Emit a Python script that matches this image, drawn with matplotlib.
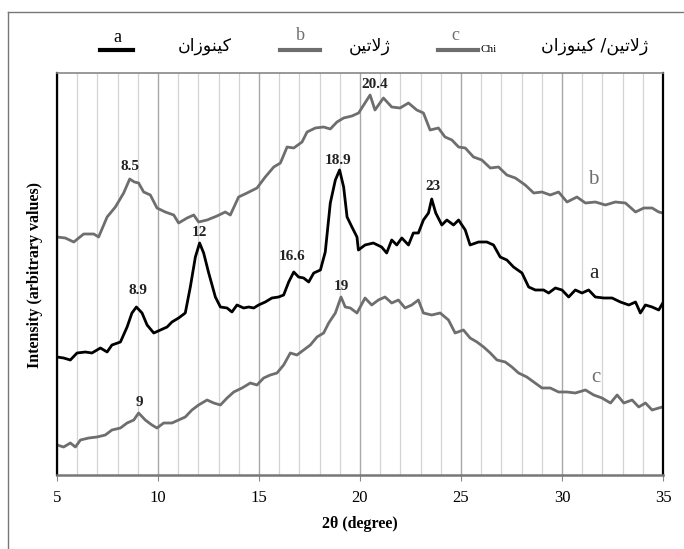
import matplotlib
matplotlib.use("Agg")
import matplotlib.pyplot as plt
from matplotlib.ticker import MultipleLocator
from matplotlib.lines import Line2D

# ---- data ----
b_x = [5.00,5.41,5.83,6.32,6.82,7.06,7.48,7.89,8.30,8.60,8.83,9.04,9.29,9.62,9.95,10.36,10.78,11.02,11.44,11.77,
       12.01,12.43,12.92,13.33,13.58,13.99,14.41,14.90,15.31,15.73,16.06,16.39,16.72,17.13,17.38,17.79,18.20,18.53,
       18.86,19.19,19.60,19.93,
       20.50,20.74,21.16,21.57,21.98,22.40,22.81,23.14,23.47,23.88,24.21,24.55,24.88,25.21,25.62,26.03,26.45,26.86,
       27.27,27.69,28.18,28.60,29.01,29.42,29.83,30.25,30.74,31.16,31.65,32.15,32.64,33.14,33.64,34.05,34.46,34.79,34.99]
b_y = [238,237,233,241,241,238,258,268,282,296,293,292,283,280,267,263,260,252,257,260,
       253,255,259,263,260,278,282,287,298,308,312,328,327,333,343,347,348,346,
       353,357,359,362,
       380,365,377,368,367,372,365,362,345,347,338,335,328,327,318,315,307,308,
       300,297,290,282,283,280,283,273,278,272,273,270,273,272,263,267,267,263,262]

a_x = [5.00,5.33,5.66,5.99,6.40,6.73,7.15,7.48,7.72,8.14,8.47,8.71,8.93,9.21,9.46,9.79,10.12,10.45,10.69,11.02,
       11.35,11.60,11.85,12.06,12.26,12.51,12.84,13.09,13.42,13.66,13.91,14.24,14.49,14.74,14.98,15.31,15.64,15.97,
       16.22,16.47,16.72,16.96,17.21,17.46,17.71,18.04,18.28,18.53,18.78,18.99,19.19,19.36,19.60,19.85,
       19.92,20.25,20.66,21.07,21.32,21.57,21.82,22.07,22.40,22.64,22.89,23.14,23.39,23.55,23.75,24.05,24.30,24.63,
       24.88,25.21,25.45,25.87,26.28,26.61,26.94,27.27,27.60,28.02,28.35,28.68,29.09,29.34,29.67,30.00,30.33,30.66,
       30.99,31.32,31.65,32.07,32.48,32.89,33.31,33.64,33.88,34.13,34.46,34.79,34.99]
a_y = [118,117,115,122,123,122,127,123,130,133,148,162,168,162,150,142,145,148,153,157,
       162,188,218,232,222,202,178,168,167,163,170,167,168,167,170,173,177,178,
       180,193,203,198,197,193,202,205,223,272,295,305,288,258,248,238,
       225,230,232,228,222,235,230,237,230,242,242,255,262,276,262,250,255,250,
       255,245,230,233,233,230,218,215,208,202,188,185,185,182,187,185,178,185,
       182,185,178,177,177,173,170,173,162,170,168,165,172]

c_x = [5.00,5.33,5.66,5.91,6.16,6.57,6.98,7.39,7.72,8.14,8.47,8.80,9.04,9.37,9.70,9.95,10.28,10.69,11.02,11.35,
       11.68,12.01,12.43,12.76,13.09,13.42,13.75,14.16,14.57,14.90,15.23,15.56,15.89,16.22,16.55,16.88,17.21,17.54,
       17.87,18.20,18.45,18.78,19.06,19.27,19.52,19.85,
       20.25,20.58,20.91,21.24,21.57,21.90,22.23,22.56,22.89,23.14,23.55,23.97,24.38,24.71,25.12,25.45,25.79,26.12,
       26.45,26.78,27.19,27.52,27.85,28.26,28.60,29.01,29.42,29.83,30.25,30.66,31.16,31.57,31.98,32.40,32.73,33.06,
       33.47,33.80,34.13,34.46,34.79,34.99]
c_y = [30,28,32,28,35,37,38,40,45,47,52,55,62,55,50,47,52,52,55,58,
       65,70,75,72,70,77,83,87,92,90,97,100,102,110,122,120,125,130,
       138,142,152,162,178,168,167,162,
       177,170,175,178,172,175,167,170,175,162,160,162,155,142,145,137,133,128,
       122,115,113,108,102,98,93,87,87,83,83,82,85,80,77,72,80,72,
       75,68,72,65,67,68]

peak_labels = ["8.5", "20.4", "18.9", "12", "16.6", "8.9", "19", "23", "9"]
peak_x = [8.61, 20.72, 18.89, 12.07, 16.62, 9.0, 19.09, 23.63, 9.1]
peak_y = [308, 390, 315, 242, 218, 185, 189, 289, 72]

curve_names = ["b", "a", "c"]
curve_name_x = [31.55, 31.6, 31.7]
curve_name_y = [296, 201, 97]

x_ticks = [5, 10, 15, 20, 25, 30, 35]

# Persian legend texts (pre-shaped presentation forms, visual order)
chitosan = "\uFEE5\uFE8D\uFEAF\uFEEE\uFEE8\uFBFF\uFB90"          # کینوزان
gelatin = "\uFEE6\uFBFF\uFE97\uFEFB\uFB8A"                        # ژلاتین
gel_chi = chitosan + " /" + gelatin                               # ژلاتین/ کینوزان

GRAY = "#6e6e6e"
SERIF = ["Liberation Serif", "DejaVu Serif"]
AR = ["DejaVu Sans"]

fig = plt.figure(figsize=(6.84, 5.49), dpi=100)
ax = fig.add_axes([57/684, 74/549, (663-57)/684, (475-73)/549])

ax.plot(b_x, b_y, color=GRAY, lw=2.0)
ax.plot(a_x, a_y, color="black", lw=2.0)
ax.plot(c_x, c_y, color=GRAY, lw=2.0)

for t, x, y in zip(peak_labels, peak_x, peak_y):
    ax.text(x, y, t, ha="center", va="center", fontsize=11, fontweight="bold",
            family=SERIF, color="#222222")
for t, x, y, col in zip(curve_names, curve_name_x, curve_name_y, [GRAY, "#222222", GRAY]):
    ax.text(x, y, t, ha="center", va="center", fontsize=15, family=SERIF, color=col)

ax.set_xlim(5, 35)
ax.set_ylim(0, 402)
ax.set_xticks(x_ticks)
ax.set_xticklabels([str(v) for v in x_ticks], family=SERIF, fontsize=12)
ax.xaxis.set_minor_locator(MultipleLocator(1))
ax.set_yticks([])
ax.grid(which="minor", axis="x", color="#d4d4d4", lw=0.9)
ax.grid(which="major", axis="x", color="#a8a8a8", lw=1.0)
ax.set_axisbelow(True)
ax.tick_params(axis="x", which="major", direction="out", length=4, color="#888888", pad=7)
ax.tick_params(axis="x", which="minor", length=0)

ax.spines["left"].set_color("black"); ax.spines["left"].set_linewidth(1.6)
ax.spines["right"].set_color("black"); ax.spines["right"].set_linewidth(1.6)
ax.spines["top"].set_color("#888888"); ax.spines["top"].set_linewidth(1.2)
ax.spines["bottom"].set_color("#777777"); ax.spines["bottom"].set_linewidth(1.8)

ax.set_xlabel("2θ (degree)", family=SERIF, fontsize=11.5, fontweight="bold", labelpad=7)
fig.text(35/684, 1 - 275/549, "Intensity (arbitrary values)", rotation=90, ha="center", va="center",
         family=SERIF, fontsize=11.5, fontweight="bold")

# outer frame (top and left)
fig.add_artist(Line2D([8/684, 1.0], [1 - 12/549, 1 - 12/549], color="#777777", lw=1.0))
fig.add_artist(Line2D([8/684, 8/684], [0, 1 - 12/549], color="#777777", lw=1.0))

# legend row
def fx(px):
    return px / 684
def fy(py):
    return 1 - py / 549

fig.add_artist(Line2D([fx(100), fx(133)], [fy(50), fy(50)], color="black", lw=3))
fig.text(fx(117), fy(37), "a", ha="center", va="center", family=SERIF, fontsize=13, color="black")
fig.text(fx(205), fy(46), chitosan, ha="center", va="center", family=AR, fontsize=12.5)

fig.add_artist(Line2D([fx(280), fx(320)], [fy(50), fy(50)], color=GRAY, lw=3))
fig.text(fx(300), fy(35), "b", ha="center", va="center", family=SERIF, fontsize=13, color=GRAY)
fig.text(fx(370), fy(46), gelatin, ha="center", va="center", family=AR, fontsize=12.5)

fig.add_artist(Line2D([fx(438), fx(478)], [fy(50), fy(50)], color=GRAY, lw=3))
fig.text(fx(455), fy(35), "c", ha="center", va="center", family=SERIF, fontsize=13, color=GRAY)
fig.text(fx(489), fy(50), "Chi", ha="center", va="center", family=SERIF, fontsize=8)
fig.text(fx(595), fy(46), gel_chi, ha="center", va="center", family=AR, fontsize=12.5)

fig.savefig("out.png", dpi=100)
